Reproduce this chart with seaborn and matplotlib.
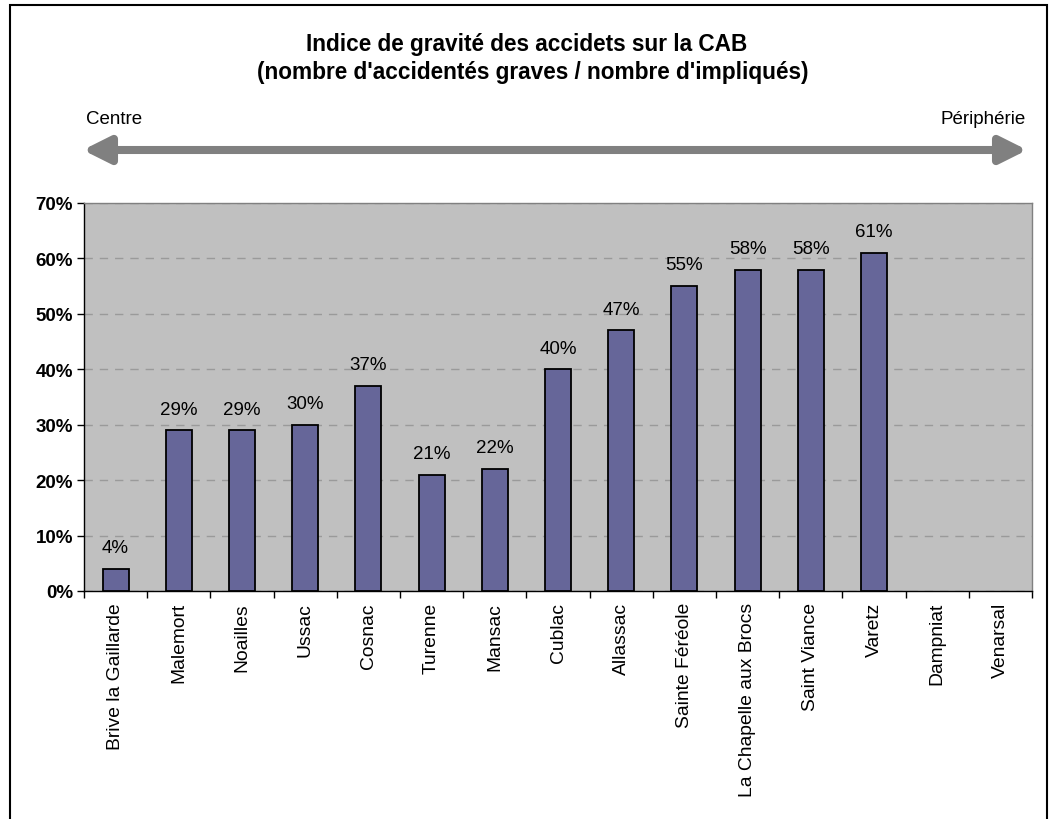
import numpy as np
import pandas as pd
import matplotlib
matplotlib.use("Agg")
import matplotlib.pyplot as plt
import seaborn as sns
from matplotlib.patches import Rectangle, FancyArrowPatch
from matplotlib.ticker import FuncFormatter

communes = ["Brive la Gaillarde", "Malemort", "Noailles", "Ussac", "Cosnac", "Turenne",
            "Mansac", "Cublac", "Allassac", "Sainte Féréole", "La Chapelle aux Brocs",
            "Saint Viance", "Varetz", "Dampniat", "Venarsal"]
indices = [4, 29, 29, 30, 37, 21, 22, 40, 47, 55, 58, 58, 61, np.nan, np.nan]
yticks = [0, 10, 20, 30, 40, 50, 60, 70]

title_1 = "Indice de gravité des accidets sur la CAB"
title_2 = "(nombre d'accidentés graves / nombre d'impliqués)"

sns.set_style("white")
plt.rcParams['font.family'] = ['Liberation Sans', 'DejaVu Sans']
for key in ["text.color", "xtick.color", "ytick.color", "axes.labelcolor"]:
    plt.rcParams[key] = "black"

df = pd.DataFrame({"commune": communes, "indice": indices})

fig = plt.figure(figsize=(10.49, 8.2), dpi=100)
ax = fig.add_axes([84/1049, 1-592/820, (1032-84)/1049, (592-204)/820])
ax.set_facecolor("#C0C0C0")

sns.barplot(data=df, x="commune", y="indice", order=communes, color="#666699",
            edgecolor="black", linewidth=1.3, width=0.41, saturation=1,
            errorbar=None, ax=ax, zorder=3)

ax.set_ylim(0, 70)
ax.set_xlim(-0.5, len(communes) - 0.5)
ax.set_yticks(yticks)
ax.yaxis.set_major_formatter(FuncFormatter(lambda v, p: f"{int(v)}%"))
ax.tick_params(axis="y", labelsize=13.5, length=5, width=1, direction="out", left=True, pad=3)
for lab in ax.get_yticklabels():
    lab.set_fontweight("bold")
ax.tick_params(axis="x", labelsize=13.9, labelrotation=90, direction="out", bottom=True, pad=8)
ax.set_xticks(np.arange(len(communes) + 1) - 0.5, minor=True)
ax.tick_params(axis="x", which="minor", length=5, width=1, bottom=True)
ax.tick_params(axis="x", which="major", length=0)
ax.set_xlabel("")
ax.set_ylabel("")

ax.yaxis.grid(True, linestyle=(0, (6, 5)), color="#9A9A9A", linewidth=1, zorder=0)
ax.set_axisbelow(True)
for side in ["left", "bottom"]:
    ax.spines[side].set_color("black")
    ax.spines[side].set_linewidth(1)
for side in ["top", "right"]:
    ax.spines[side].set_color("#808080")
    ax.spines[side].set_linewidth(1)

for bar, v in zip(ax.containers[0], indices):
    if bar is None or np.isnan(v):
        continue
    ax.annotate(f"{int(v)}%", (bar.get_x() + bar.get_width() / 2, bar.get_height()),
                xytext=(0, 12), textcoords="offset points", ha="center", va="baseline",
                fontsize=13.5)

fig.text(527/1049, 1-44/820, title_1, ha="center", va="center", fontsize=16.3,
         fontweight="bold")
fig.text(533/1049, 1-72/820, title_2, ha="center", va="center", fontsize=16.3,
         fontweight="bold")
fig.text(86/1049, 1-120/820, "Centre", ha="left", va="center", fontsize=13.5)
fig.text(1026/1049, 1-120/820, "Périphérie", ha="right", va="center", fontsize=13.5)

arrow = FancyArrowPatch((80/1049, 1-151/820), (1030/1049, 1-151/820),
                        transform=fig.transFigure, arrowstyle="<|-|>,head_length=16,head_width=8",
                        color="#808080", linewidth=5.8, mutation_scale=1)
fig.patches.append(arrow)

border = Rectangle((10/1049, -0.01), (1047-10)/1049, 1-6/820 + 0.01, transform=fig.transFigure,
                   fill=False, edgecolor="black", linewidth=1.5)
fig.patches.append(border)

fig.savefig("out.png", dpi=100, facecolor="white")
